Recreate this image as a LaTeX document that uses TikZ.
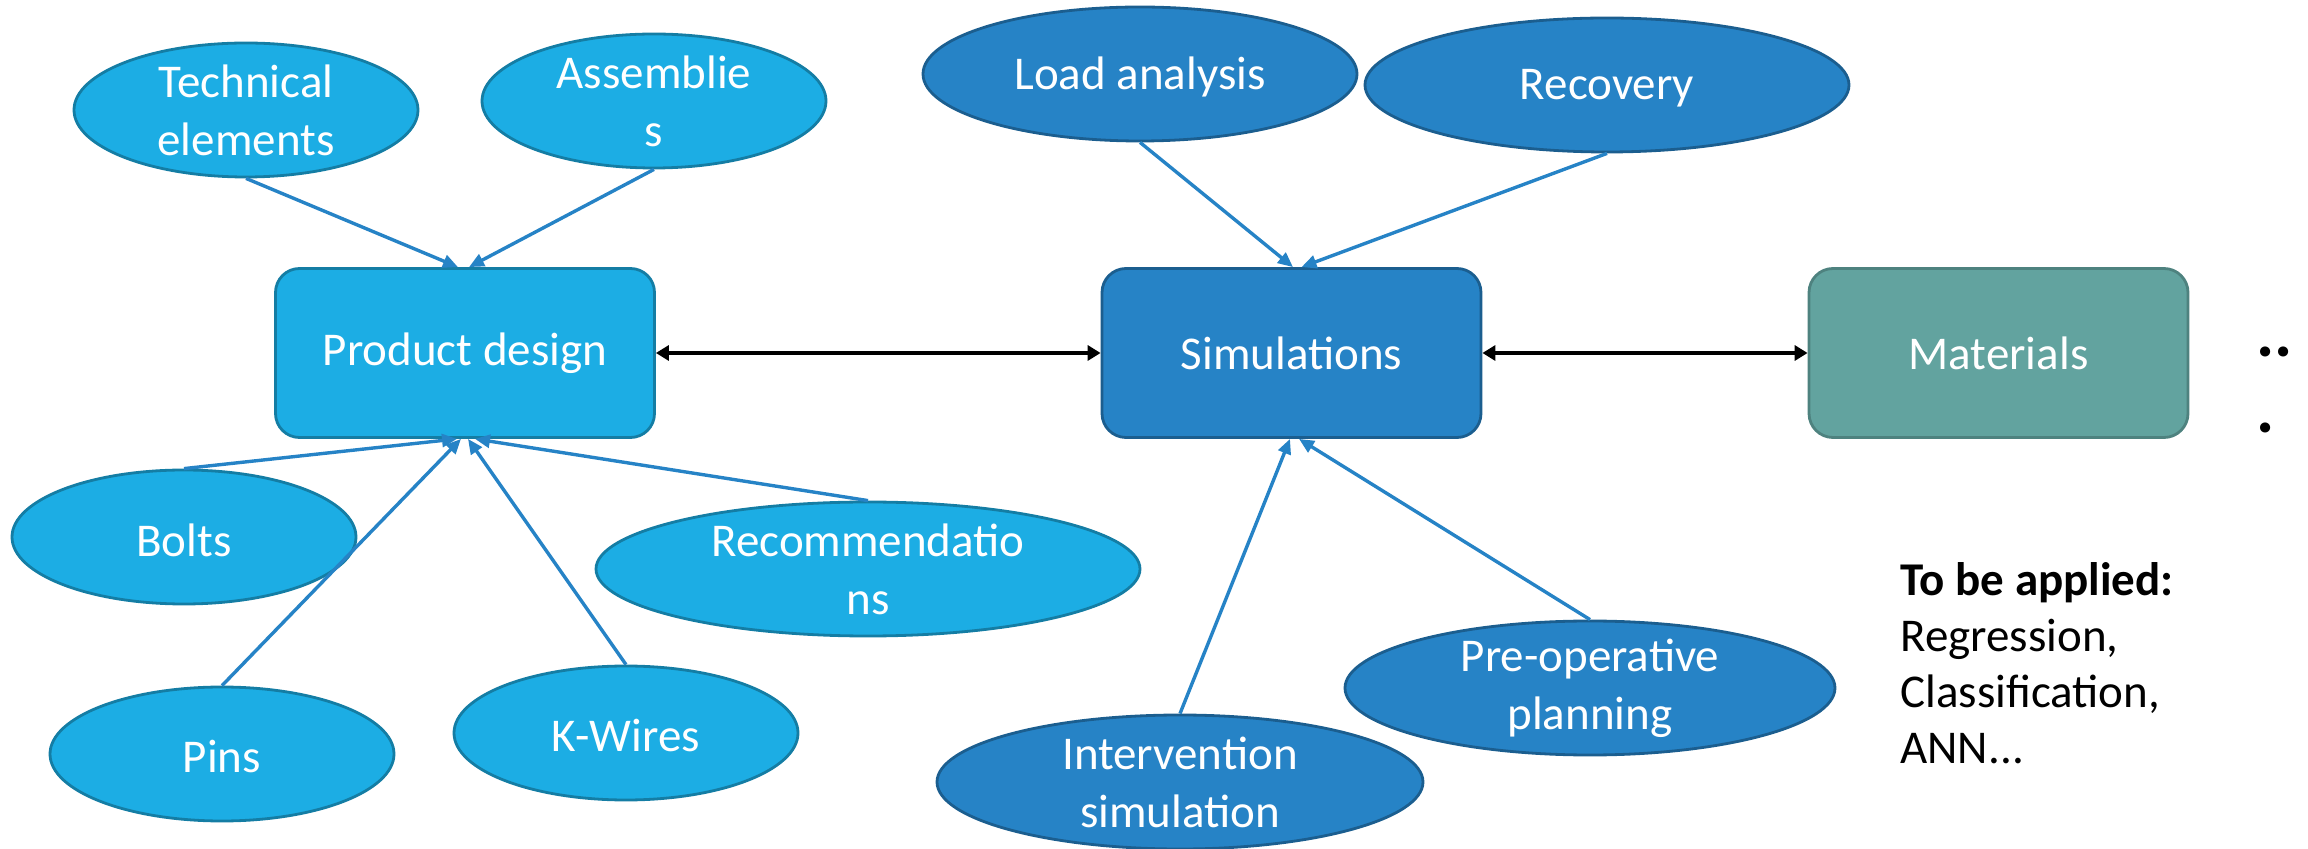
\documentclass[tikz,border=0pt]{standalone}
\usepackage{fontspec}
\setmainfont{Carlito}
\usetikzlibrary{arrows.meta,shapes.geometric}

\definecolor{blueA}{HTML}{1CADE4}
\definecolor{blueB}{HTML}{2683C6}
\definecolor{tealC}{HTML}{62A39F}

\begin{document}
\begin{tikzpicture}[x=0.5pt,y=-0.5pt,
  every node/.style={font=\fontsize{23.5}{29}\selectfont},
  bubble/.style 2 args={ellipse, line width=1.4pt, inner sep=0pt,
    minimum width=#1, minimum height=#2},
  lite/.style={fill=blueA, draw=blueA!72!black},
  dark/.style={fill=blueB, draw=blueB!72!black},
  intext/.style={text=white, align=center, inner sep=0pt},
  oneline/.style={intext, yshift=-1.5pt},
  hub/.style={rectangle, rounded corners=12pt, line width=1.4pt,
    minimum width=189.5pt, minimum height=84.5pt, text=white},
  conn/.style={draw=blueB, line width=1.7pt, -{Triangle[length=7.5pt,width=6.5pt]}},
  link/.style={draw=black, line width=1.7pt,
    {Triangle[length=6.5pt,width=7.5pt]}-{Triangle[length=6.5pt,width=7.5pt]}}
]
\useasboundingbox (0,0) rectangle (2308,849);

% central blocks
\node[hub, lite] (pd)  at (465,353)    {Product design};
\node[hub, dark] (sim) at (1291.5,353) {Simulations};
\node[hub, fill=tealC, draw=tealC!80!black] (mat) at (1998.5,353) {Materials};

% product design inputs
\node[bubble={172pt}{67pt}, lite, label={[intext]center:Technical\\elements}] (tech) at (246,110) {};
\node[bubble={172pt}{67pt}, lite, label={[intext]center:Assemblie\\s}] (asm) at (654,101) {};
\node[bubble={172pt}{67pt}, lite, label={[oneline]center:Bolts}] (bolts) at (184,537) {};
\node[bubble={272pt}{67pt}, lite, label={[intext]center:Recommendatio\\ns}] (recm) at (868,569) {};
\node[bubble={172pt}{67pt}, lite, label={[oneline]center:Pins}] (pins) at (222,754) {};
\node[bubble={172pt}{67pt}, lite, label={[oneline]center:K-Wires}] (kw) at (626,733) {};

% simulation inputs
\node[bubble={217pt}{67pt}, dark, label={[oneline]center:Load analysis}] (load) at (1140,74) {};
\node[bubble={242pt}{67pt}, dark, label={[oneline]center:Recovery}] (rec) at (1607,85) {};
\node[bubble={243pt}{67pt}, dark, label={[intext]center:Intervention\\simulation}] (intv) at (1180,782) {};
\node[bubble={245pt}{67pt}, dark, label={[intext]center:Pre-operative\\planning}] (preop) at (1590,688) {};

% connectors into product design
\draw[conn] (tech.south)  -- ([xshift=-3.5pt]pd.north);
\draw[conn] (asm.south)   -- ([xshift=2pt]pd.north);
\draw[conn] (bolts.north) -- ([xshift=-4pt]pd.south);
\draw[conn] (pins.north)  -- ([xshift=-2pt]pd.south);
\draw[conn] (kw.north)    -- ([xshift=1.5pt]pd.south);
\draw[conn] (recm.north)  -- ([xshift=5pt]pd.south);

% connectors into simulations
\draw[conn] (load.south)  -- ([xshift=0.75pt]sim.north);
\draw[conn] (rec.south)   -- ([xshift=5pt]sim.north);
\draw[conn] (intv.north)  -- ([xshift=-0.75pt]sim.south);
\draw[conn] (preop.north) -- ([xshift=3.75pt]sim.south);

% links between blocks
\draw[link] (pd.east) -- (sim.west);
\draw[link] (sim.east) -- (mat.west);

% continuation marks and note
\node[anchor=base west, align=left, inner sep=0pt,
  font=\bfseries\fontsize{34}{38}\selectfont] (more) at (2256,433) {..\\.};
\node[anchor=base west, align=left, inner sep=0pt,
  font=\fontsize{23.5}{28}\selectfont] (apply) at (1900,763)
  {\textbf{To be applied:}\\Regression,\\Classification,\\ANN.{}.{}.};
\end{tikzpicture}
\end{document}
